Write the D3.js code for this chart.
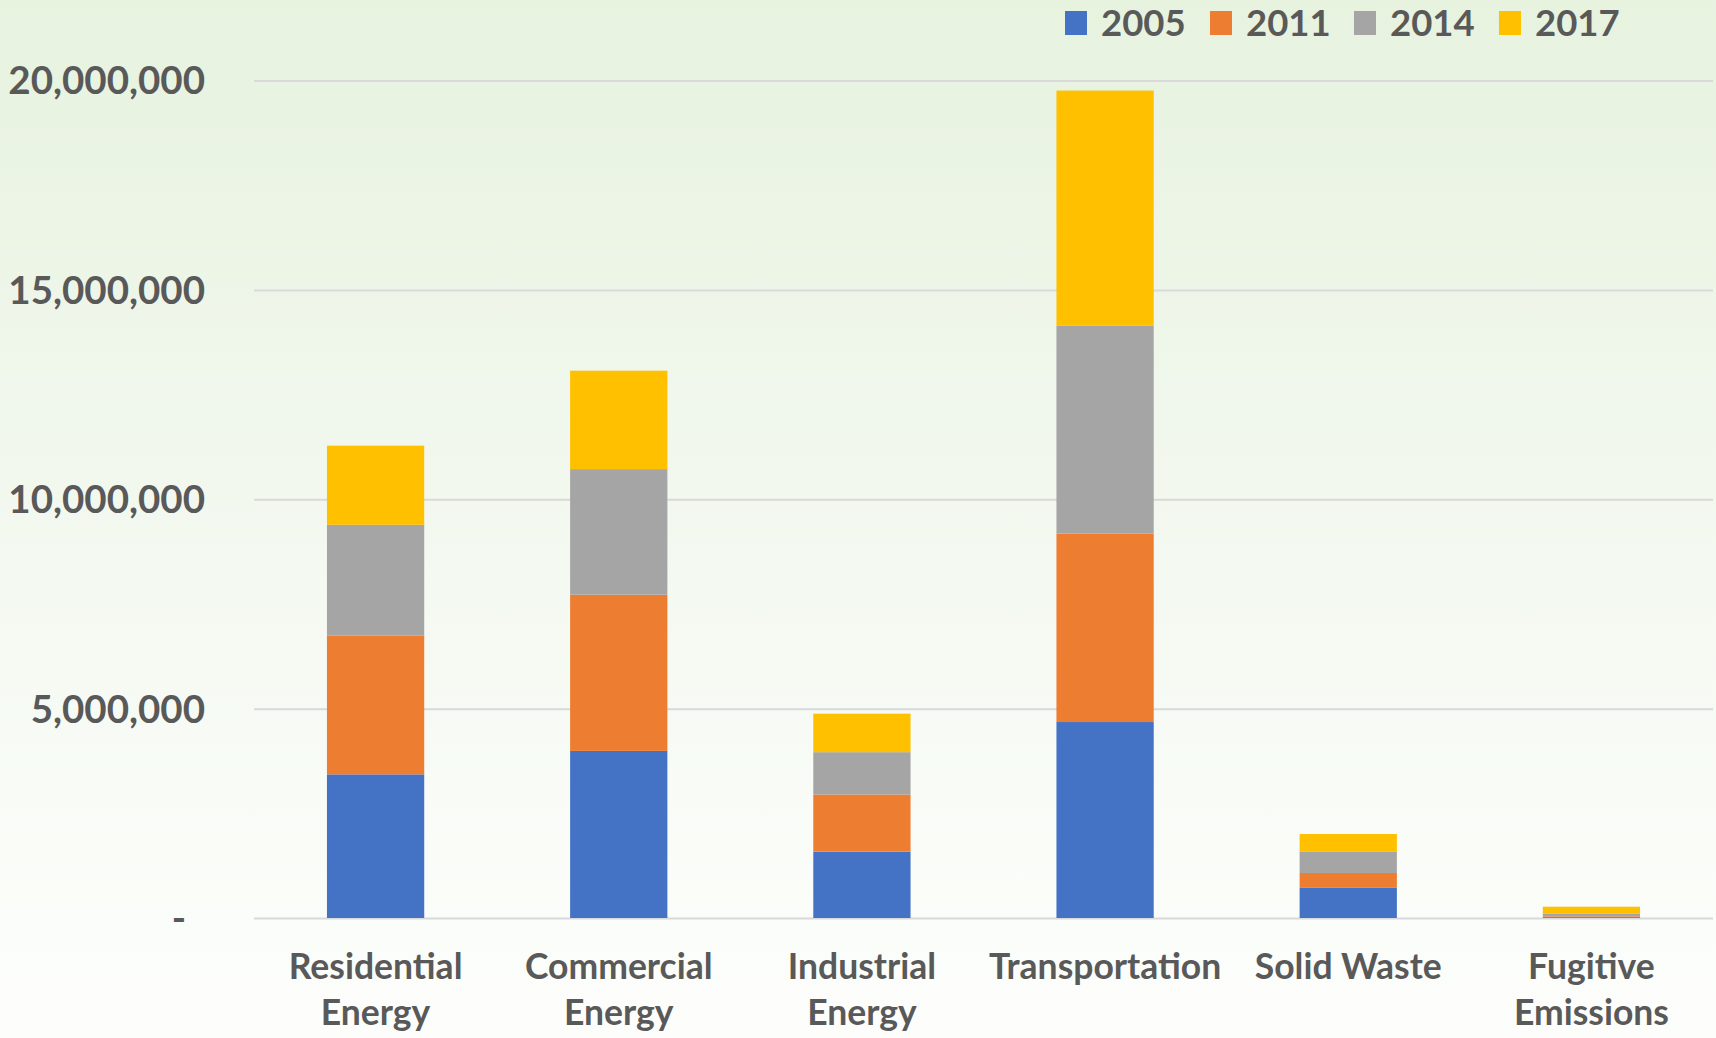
<!DOCTYPE html>
<html>
<head>
<meta charset="utf-8">
<script src="https://cdn.jsdelivr.net/npm/d3@7"></script>
<style>
html,body{margin:0;padding:0;overflow:hidden;}
svg{display:block;}
text{font-family:Lato,"Open Sans",sans-serif;font-weight:bold;fill:#595959;}
</style>
</head>
<body>
<svg id="chart" width="1716" height="1038"></svg>
<script>
const categories = ["Residential Energy","Commercial Energy","Industrial Energy","Transportation","Solid Waste","Fugitive Emissions"];
const categoryLines = [["Residential","Energy"],["Commercial","Energy"],["Industrial","Energy"],["Transportation"],["Solid Waste"],["Fugitive","Emissions"]];
const seriesNames = ["2005","2011","2014","2017"];
const seriesColors = ["#4472c4","#ed7d31","#a5a5a5","#ffc000"];
const v2005 = [3430000,3990000,1585000,4680000,730000,20000];
const v2011 = [3310000,3730000,1365000,4500000,345000,20000];
const v2014 = [2650000,3000000,1010000,4970000,515000,70000];
const v2017 = [1890000,2350000,920000,5610000,415000,160000];
const yTicks = [0,5000000,10000000,15000000,20000000];

const W = 1716, H = 1038;
const svg = d3.select("#chart");
const defs = svg.append("defs");
const grad = defs.append("linearGradient").attr("id","bg").attr("x1",0).attr("y1",0).attr("x2",0).attr("y2",1);
grad.append("stop").attr("offset","0%").attr("stop-color","#e7f2df");
grad.append("stop").attr("offset","55%").attr("stop-color","#f4f9f1");
grad.append("stop").attr("offset","100%").attr("stop-color","#fdfefc");
svg.append("rect").attr("width",W).attr("height",H).attr("fill","url(#bg)");

const x = d3.scaleBand().domain(categories).range([254,1713]).paddingInner(0.6).paddingOuter(0.3);
const y = d3.scaleLinear().domain([0,20000000]).range([918,80.5]);

const rows = categories.map((c,i)=>({cat:c, "2005":v2005[i], "2011":v2011[i], "2014":v2014[i], "2017":v2017[i]}));
const stacked = d3.stack().keys(seriesNames)(rows);

// gridlines + tick labels
const yAxis = d3.axisLeft(y).tickValues(yTicks).tickSize(-(1713-254)).tickFormat(d=> d===0 ? "-" : d3.format(",")(d));
const gy = svg.append("g").attr("transform","translate(254,0)").call(yAxis);
gy.select(".domain").remove();
gy.selectAll(".tick line").attr("stroke","#d9d9d9").attr("stroke-width",2);
gy.selectAll(".tick text").attr("x",-49).attr("dy","0.35em").style("font-size","38.5px").attr("text-anchor","end")
  .filter(d=>d===0).attr("x",-68);

// bars
svg.append("g").selectAll("g").data(stacked).join("g")
  .attr("fill",(d,i)=>seriesColors[i])
  .selectAll("rect").data(d=>d).join("rect")
  .attr("x",d=>x(d.data.cat))
  .attr("width",x.bandwidth())
  .attr("y",d=>y(d[1]))
  .attr("height",d=>y(d[0])-y(d[1]));

// x labels
const gx = svg.append("g");
categories.forEach((c,i)=>{
  const cx = x(c)+x.bandwidth()/2;
  const t = gx.append("text").attr("x",cx).attr("y",979).attr("text-anchor","middle").style("font-size","35.5px");
  categoryLines[i].forEach((ln,j)=>{
    t.append("tspan").attr("x",cx).attr("dy", j===0?0:46).text(ln);
  });
});

// legend
const legendX = [1065,1210,1354,1499];
const lg = svg.append("g");
seriesNames.forEach((s,i)=>{
  lg.append("rect").attr("x",legendX[i]).attr("y",11).attr("width",22).attr("height",24).attr("fill",seriesColors[i]);
  lg.append("text").attr("x",legendX[i]+36).attr("y",23).attr("dy","0.35em").style("font-size","36.5px").text(s);
});
</script>
</body>
</html>
